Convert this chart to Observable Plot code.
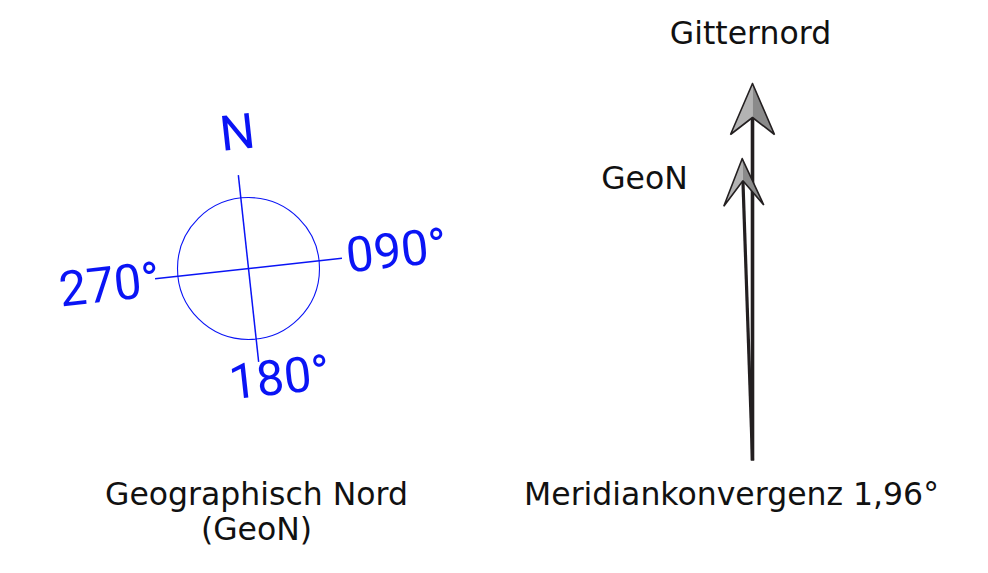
<!DOCTYPE html>
<html>
<head>
<meta charset="utf-8">
<script src="https://cdn.jsdelivr.net/npm/d3@7"></script>
<script src="https://cdn.jsdelivr.net/npm/@observablehq/plot@0.6"></script>
<style>
  html, body { margin: 0; padding: 0; background: #fff; }
  #chart svg { display: block; }
</style>
</head>
<body>
<div id="chart"></div>
<script>
// ---- data ----
const convergenceDeg = 1.96;             // Meridiankonvergenz
const compassRotationDeg = 6.2;          // rotation of the compass rose (counter‑clockwise)
const compassLabels = ["N", "090°", "180°", "270°"];
const compassLabelEast = [3.6, 149, 18.9, -140];
const compassLabelNorth = [135.4, 0.9, -112.7, -1.9];
const arrowNames = ["Gitternord", "GeoN"];
const arrowAngles = [0, -convergenceDeg];
const arrowLengths = [377, 302];
const arrowHeadLen = [51, 47];
const arrowHeadHalf = [22, 20];
const arrowNotch = [34, 22];
const arrowWidths = [3.6, 3.2];
const captions = ["Gitternord", "GeoN", "Meridiankonvergenz 1,96°", "Geographisch Nord", "(GeoN)"];

// ---- layout (pixel frame) ----
const W = 988, H = 573;
const compass = {x: 248, y: 268, r: 71, arm: 94};
const arrowFoot = {x: 752, y: 460};
const captionPos = [[750, 33], [644, 178], [731, 494], [256, 494], [256, 529]];

const rad = d => d * Math.PI / 180;
// bearing (clockwise from up) in the rotated compass frame -> unit vector in screen coords
function dir(bearing) {
  const a = rad(bearing - compassRotationDeg);
  return [Math.sin(a), -Math.cos(a)];
}
const north = dir(0), east = dir(90);

// compass cross arms
const arms = [north, east].map(([ux, uy]) => ({
  x1: compass.x - ux * compass.arm, y1: compass.y - uy * compass.arm,
  x2: compass.x + ux * compass.arm, y2: compass.y + uy * compass.arm}));

// compass labels
const cLabels = compassLabels.map((t, i) => ({text: t,
  x: compass.x + east[0] * compassLabelEast[i] + north[0] * compassLabelNorth[i],
  y: compass.y + east[1] * compassLabelEast[i] + north[1] * compassLabelNorth[i]}));

// arrows
const shafts = [], leftHalves = [], rightHalves = [], outlines = [];
arrowNames.forEach((name, i) => {
  const a = rad(arrowAngles[i]);
  const u = [Math.sin(a), -Math.cos(a)];
  const p = [Math.cos(a), Math.sin(a)];
  const at = (along, side) => ({id: name,
    x: arrowFoot.x + u[0] * along + p[0] * side,
    y: arrowFoot.y + u[1] * along + p[1] * side});
  const L = arrowLengths[i];
  const tip = at(L, 0);
  const lw = at(L - arrowHeadLen[i], -arrowHeadHalf[i]);
  const rw = at(L - arrowHeadLen[i], arrowHeadHalf[i]);
  const notch = at(L - arrowNotch[i], 0);
  shafts.push({id: name, x1: arrowFoot.x, y1: arrowFoot.y, x2: notch.x, y2: notch.y, w: arrowWidths[i]});
  leftHalves.push(tip, lw, notch, tip);
  rightHalves.push(tip, notch, rw, tip);
  outlines.push(tip, lw, notch, rw, tip);
});

const capData = captions.map((t, i) => ({text: t, x: captionPos[i][0], y: captionPos[i][1]}));

const blue = "#0a14f5";
const ink = "#231f20";

const chart = Plot.plot({
  width: W, height: H, margin: 0,
  style: {background: "#fff"},
  x: {domain: [0, W], range: [0, W], axis: null},
  y: {domain: [0, H], range: [0, H], axis: null},
  marks: [
    // compass
    Plot.dot([compass], {x: "x", y: "y", r: compass.r, stroke: blue, strokeWidth: 1.1, fill: "none"}),
    Plot.link(arms, {x1: "x1", y1: "y1", x2: "x2", y2: "y2", stroke: blue, strokeWidth: 1.5}),
    Plot.text(cLabels, {x: "x", y: "y", text: "text", fill: blue, fontSize: 49, fontWeight: 400,
      fontFamily: "Roboto", rotate: -compassRotationDeg, textAnchor: "middle", lineAnchor: "middle"}),
    // arrows
    Plot.link(shafts, {x1: "x1", y1: "y1", x2: "x2", y2: "y2", stroke: ink, strokeWidth: d => d.w, strokeLinecap: "butt"}),
    Plot.line(leftHalves, {x: "x", y: "y", z: "id", fill: "#b3b3b3", stroke: "none", curve: "linear"}),
    Plot.line(rightHalves, {x: "x", y: "y", z: "id", fill: "#8a8a8a", stroke: "none", curve: "linear"}),
    Plot.line(outlines, {x: "x", y: "y", z: "id", stroke: ink, strokeWidth: 1.6, fill: "none", strokeLinejoin: "miter"}),
    // captions
    Plot.text(capData, {x: "x", y: "y", text: "text", fill: "#111", fontSize: 31.5,
      fontFamily: "DejaVu Sans", textAnchor: "middle", lineAnchor: "middle"})
  ]
});
document.getElementById("chart").appendChild(chart);
</script>
</body>
</html>
